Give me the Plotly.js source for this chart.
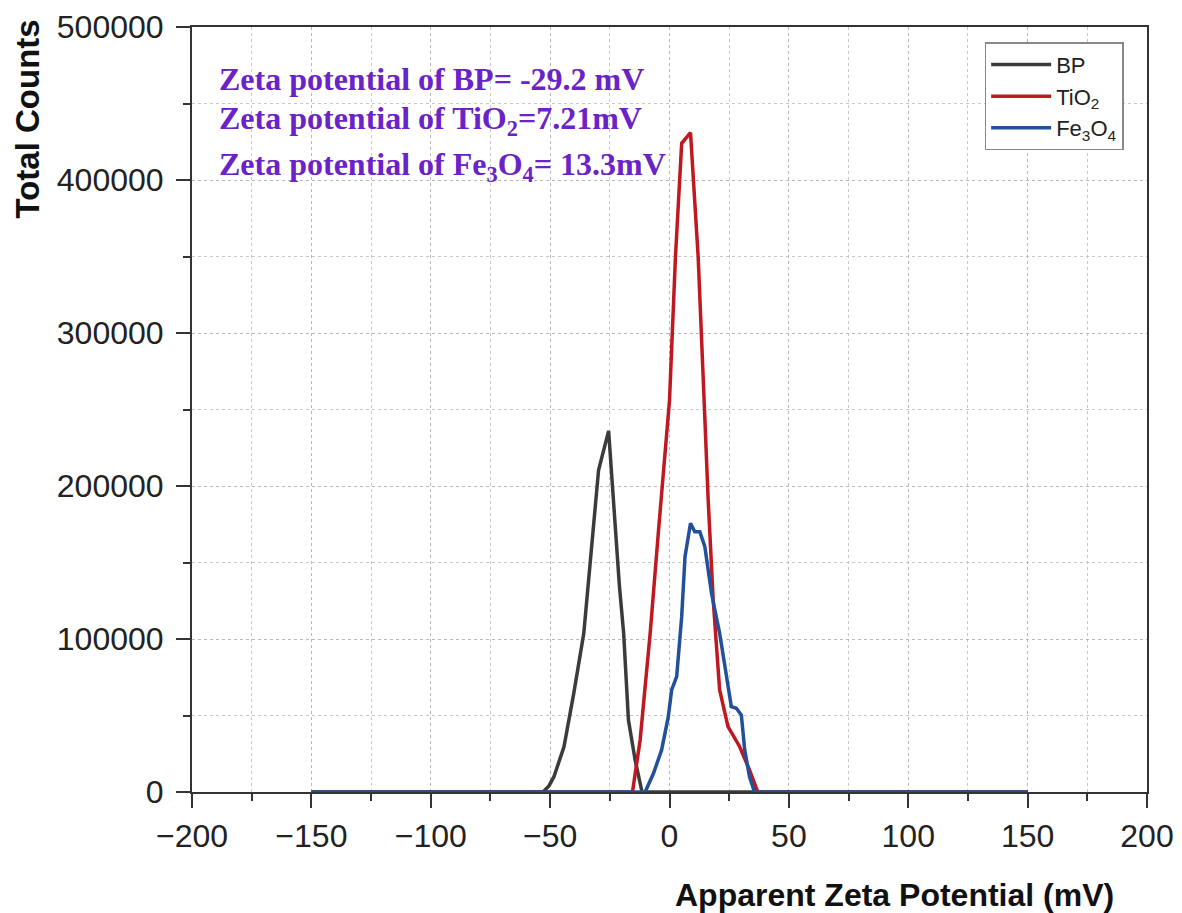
<!DOCTYPE html>
<html>
<head>
<meta charset="utf-8">
<script src="https://cdn.plot.ly/plotly-3.0.1.min.js"></script>
<style>html,body{margin:0;padding:0;background:#fff;}#chart{width:1182px;height:913px;}</style>
</head>
<body>
<div id="chart"></div>
<script>
// BP series
var bpX = [-150, -53, -50.5, -48.4, -44.2, -40.1, -35.9, -33.1, -31.8, -29.7, -25.5, -23.3, -21, -19.2, -17.2, -14.4, -11.5, 150];
var bpY = [0, 0, 4000, 10000, 29600, 64500, 103700, 151600, 177800, 210500, 236000, 185000, 135000, 103700, 47000, 20900, 0, 0];
// TiO2 series
var tiX = [-150, -15.5, -12.3, -8.1, -4.7, -1.9, 0, 2.5, 5.1, 8.8, 12.0, 14.5, 16.2, 18.3, 21, 24.5, 29.4, 33.5, 37, 150];
var tiY = [0, 0, 34000, 103700, 169000, 223500, 256000, 350000, 424000, 431000, 350000, 256000, 190800, 125500, 66700, 42700, 29600, 14400, 0, 0];
// Fe3O4 series
var feX = [-150, -10.2, -6.7, -3.3, -0.5, 0.9, 3, 5.1, 6.5, 8.8, 10.6, 12.7, 14.8, 17.6, 21, 23.8, 25.9, 28, 30.1, 31.5, 33.5, 35.6, 150];
var feY = [0, 0, 12200, 27500, 49200, 66700, 75400, 114600, 153800, 175600, 170100, 170100, 160300, 129900, 103700, 77600, 55800, 54700, 50300, 27500, 10000, 0, 0];

var seriesNames = ['BP', 'TiO<sub>2</sub>', 'Fe<sub>3</sub>O<sub>4</sub>'];
var annotationTexts = [
  'Zeta potential of BP= -29.2 mV',
  'Zeta potential of TiO<sub>2</sub>=7.21mV',
  'Zeta potential of Fe<sub>3</sub>O<sub>4</sub>= 13.3mV'
];
var xTitle = 'Apparent Zeta Potential (mV)';
var yTitle = 'Total Counts';

var colors = ['#3b3b3b', '#c01820', '#22509c'];
var traces = [
  {x: bpX, y: bpY, name: seriesNames[0]},
  {x: tiX, y: tiY, name: seriesNames[1]},
  {x: feX, y: feY, name: seriesNames[2]}
].map(function (t, i) {
  t.type = 'scatter'; t.mode = 'lines';
  t.line = {color: colors[i], width: 3.5};
  return t;
});

var axisCommon = {
  showline: true, linecolor: '#333', linewidth: 2, mirror: true,
  ticks: 'outside', ticklen: 14, tickwidth: 2, tickcolor: '#333',
  showgrid: true, gridcolor: '#b8b8b8', gridwidth: 1, griddash: 'dot',
  zeroline: false,
  tickfont: {family: 'Liberation Sans, Arial', size: 32, color: '#222'}
};

var xaxis = Object.assign({}, axisCommon, {
  range: [-200, 200], dtick: 50, tick0: 0, ticklabelstandoff: 1,
  minor: {dtick: 25, ticks: 'outside', ticklen: 7, tickwidth: 2, tickcolor: '#333',
          showgrid: true, gridcolor: '#c8c8c8', griddash: 'dot', gridwidth: 1}
});
var yaxis = Object.assign({}, axisCommon, {
  range: [0, 500000], dtick: 100000, tick0: 0, tickformat: 'd', ticklabelstandoff: 6,
  minor: {dtick: 50000, ticks: 'outside', ticklen: 7, tickwidth: 2, tickcolor: '#333',
          showgrid: true, gridcolor: '#c8c8c8', griddash: 'dot', gridwidth: 1}
});

var annY = [0.932, 0.878, 0.818];
var annotations = annotationTexts.map(function (t, i) {
  return {
    text: t, xref: 'paper', yref: 'paper', x: 0.026, y: annY[i],
    xanchor: 'left', yanchor: 'middle', showarrow: false,
    font: {family: 'Liberation Serif, Times New Roman', size: 32, color: '#6a22c9', weight: 'bold'}
  };
});
annotations.push({
  text: yTitle, xref: 'paper', yref: 'paper', x: -0.172, y: 0.88,
  xanchor: 'center', yanchor: 'middle', textangle: -90, showarrow: false,
  font: {family: 'Liberation Sans, Arial', size: 33, color: '#111', weight: 'bold'}
});
annotations.push({
  text: xTitle, xref: 'paper', yref: 'paper', x: 0.736, y: -0.134,
  xanchor: 'center', yanchor: 'middle', showarrow: false,
  font: {family: 'Liberation Sans, Arial', size: 32, color: '#111', weight: 'bold'}
});

var layout = {
  width: 1182, height: 913,
  margin: {l: 192, r: 35, t: 27, b: 121},
  paper_bgcolor: '#fff', plot_bgcolor: '#fff',
  xaxis: xaxis, yaxis: yaxis,
  showlegend: true,
  legend: {
    x: 0.830, y: 0.980, xanchor: 'left', yanchor: 'top',
    bgcolor: '#fff', bordercolor: '#888', borderwidth: 1.5,
    font: {family: 'Liberation Sans, Arial', size: 22, color: '#222'},
    itemwidth: 60, tracegroupgap: 0
  },
  annotations: annotations
};

Plotly.newPlot('chart', traces, layout, {displayModeBar: false, staticPlot: true});
</script>
</body>
</html>
